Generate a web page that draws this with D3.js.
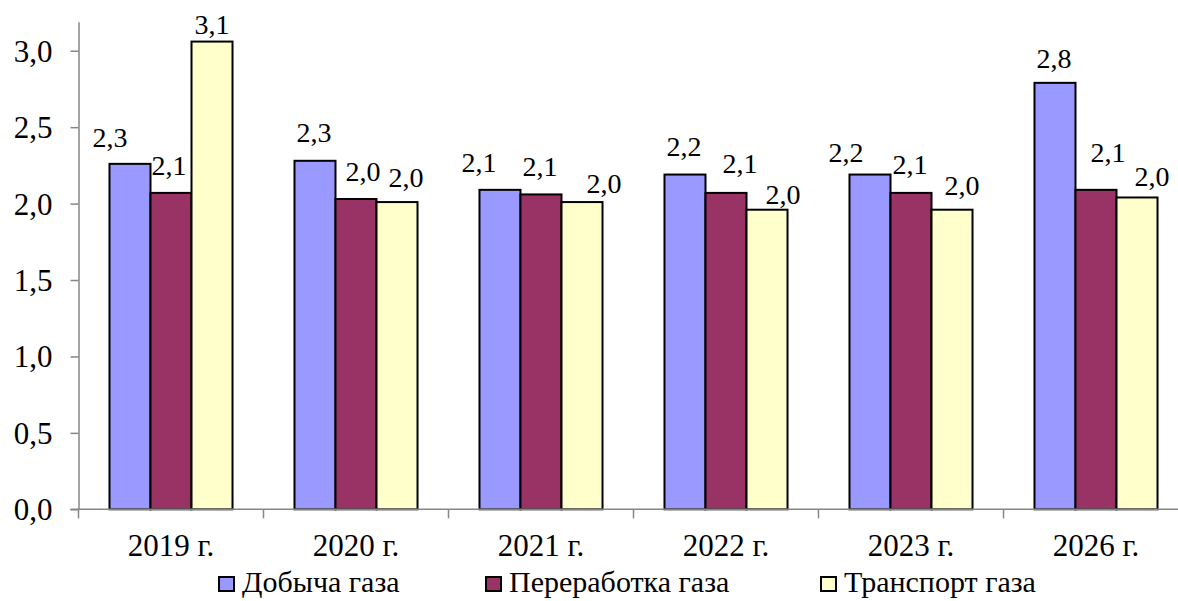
<!DOCTYPE html>
<html>
<head>
<meta charset="utf-8">
<script src="https://cdn.jsdelivr.net/npm/d3@7"></script>
<style>
  svg text.t { font-family: 'Liberation Serif', 'Times New Roman', Tinos, serif !important; }
</style>
</head>
<body style="margin:0">
<svg id="chart" width="1178" height="601" font-family="Liberation Serif, serif"></svg>
<script>
// Categories and series
const categories = ["2019 г.", "2020 г.", "2021 г.", "2022 г.", "2023 г.", "2026 г."];
const seriesNames = ["Добыча газа", "Переработка газа", "Транспорт газа"];
const dobycha      = [2.26, 2.28, 2.09, 2.19, 2.19, 2.79];
const pererabotka  = [2.07, 2.03, 2.06, 2.07, 2.07, 2.09];
const transport    = [3.06, 2.01, 2.01, 1.96, 1.96, 2.04];
const yTicks = [0, 0.5, 1.0, 1.5, 2.0, 2.5, 3.0];

// Hand placement of value labels: [dx, dy] relative to a label centred over its bar
const labelNudge = [
  [[-20, 1], [-2, 0], [0, 10]],
  [[-1, -1], [7, 0], [9, 3]],
  [[-21, 0], [-1, 0], [22, 9]],
  [[-1, -1], [14, -2], [16, 12]],
  [[-24, 5], [-1, -1], [10, 3]],
  [[-1, 3], [12, -10], [15, 7]]
];

const colors = ["#9999FF", "#993366", "#FFFFCC"];
const axisColor = "#868686";
const serif = "'Liberation Serif', 'Times New Roman', Tinos, serif";

const svg = d3.select("#chart");
const values = [dobycha, pererabotka, transport];

// Applies the serif face and size to a text selection
function face(sel, size) {
  sel.classed("t", true)
    .attr("font-family", "Liberation Serif, serif")
    .attr("font-size", size)
    .style("font-family", serif, "important")
    .style("font-size", size + "px");
}

const plotLeft = 78.5, plotRight = 1188.5, plotBottom = 509.3, plotTop = 21.7;
const yMax = 3.19;

const x0 = d3.scaleBand().domain(categories).range([plotLeft, plotRight]).padding(0);
const groupWidth = x0.step() * 0.665;
const x1 = d3.scaleBand().domain(seriesNames)
  .range([(x0.step() - groupWidth) / 2, (x0.step() + groupWidth) / 2]).padding(0);
const y = d3.scaleLinear().domain([0, yMax]).range([plotBottom, plotTop]);

const fmt = v => d3.format(".1f")(v).replace(".", ",");

// Y axis
const yAxis = d3.axisLeft(y).tickValues(yTicks).tickSize(8).tickSizeOuter(0).tickFormat(fmt);
const gy = svg.append("g").attr("transform", `translate(${plotLeft},0)`).call(yAxis);
gy.attr("font-family", "Liberation Serif, serif").attr("font-size", 31);
gy.select(".domain").attr("stroke", axisColor).attr("stroke-width", 1.5);
gy.selectAll(".tick line").attr("stroke", axisColor).attr("stroke-width", 1.5);
gy.selectAll(".tick text")
  .attr("x", -26).attr("dy", "0.34em")
  .attr("fill", "#000")
  .call(face, 31);

// Bars
const groups = svg.append("g").selectAll("g")
  .data(categories)
  .join("g")
  .attr("transform", d => `translate(${x0(d)},0)`);

groups.selectAll("rect")
  .data((c, i) => seriesNames.map((s, j) => ({ s, j, v: values[j][i] })))
  .join("rect")
  .attr("x", d => x1(d.s))
  .attr("y", d => y(d.v))
  .attr("width", x1.bandwidth())
  .attr("height", d => y(0) - y(d.v))
  .attr("fill", d => colors[d.j])
  .attr("stroke", "#000")
  .attr("stroke-width", 2);

// X axis line and category boundary ticks
svg.append("line")
  .attr("x1", plotLeft - 8).attr("x2", 1178)
  .attr("y1", y(0)).attr("y2", y(0))
  .attr("stroke", axisColor).attr("stroke-width", 1.5);

const boundaries = categories.map(c => x0(c)).concat([x0(categories[categories.length - 1]) + x0.step()]);
svg.append("g").selectAll("line")
  .data(boundaries)
  .join("line")
  .attr("x1", d => d).attr("x2", d => d)
  .attr("y1", y(0)).attr("y2", y(0) + 9)
  .attr("stroke", axisColor).attr("stroke-width", 1.5);

// Category labels
svg.append("g").selectAll("text")
  .data(categories)
  .join("text")
  .attr("x", d => x0(d) + x0.bandwidth() / 2)
  .attr("y", 556)
  .attr("text-anchor", "middle")
  .call(face, 31)
  .text(d => d);

// Value labels
groups.selectAll("text.val")
  .data((c, i) => seriesNames.map((s, j) => ({ s, j, v: values[j][i], n: labelNudge[i][j] })))
  .join("text")
  .attr("class", "val")
  .attr("x", d => x1(d.s) + x1.bandwidth() / 2 + d.n[0])
  .attr("y", d => y(d.v) - 18 + d.n[1])
  .attr("text-anchor", "middle")
  .call(face, 28)
  .text(d => fmt(d.v));

// Legend
const legendX = [218, 485, 820];
const legend = svg.append("g").selectAll("g")
  .data(seriesNames)
  .join("g")
  .attr("transform", (d, i) => `translate(${legendX[i]},576)`);
legend.append("rect")
  .attr("x", 1).attr("y", 1)
  .attr("width", 15).attr("height", 14)
  .attr("fill", (d, i) => colors[i])
  .attr("stroke", "#000").attr("stroke-width", 2);
legend.append("text")
  .attr("x", 24).attr("y", 16)
  .call(face, 30)
  .text(d => d);
</script>
</body>
</html>
